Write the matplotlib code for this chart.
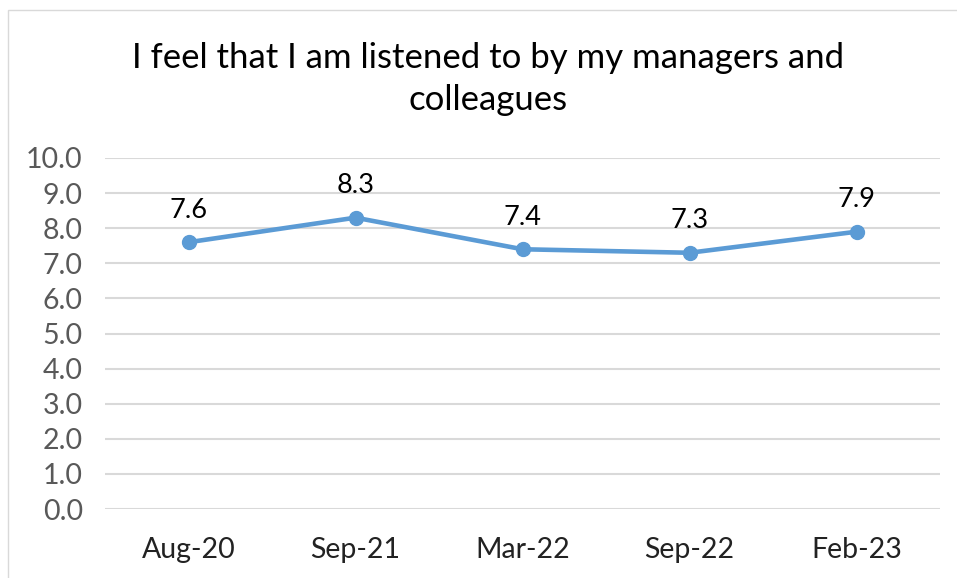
import matplotlib.pyplot as plt
from matplotlib.patches import Rectangle

plt.rcParams['font.family'] = ['Lato', 'DejaVu Sans']

# データ
dates = ["Aug-20", "Sep-21", "Mar-22", "Sep-22", "Feb-23"]
scores = [7.6, 8.3, 7.4, 7.3, 7.9]
yticks = [0, 1, 2, 3, 4, 5, 6, 7, 8, 9, 10]

fig = plt.figure(figsize=(9.57, 5.78), dpi=100)
ax = fig.add_axes([105 / 957, 69 / 578, 835 / 957, 351 / 578])

x = range(len(dates))
ax.plot(x, scores, color="#5B9BD5", lw=3.3, marker="o", ms=10, zorder=3)
for i, v in zip(x, scores):
    ax.annotate(f"{v:.1f}", (i, v), xytext=(0, 14), textcoords="offset points",
                ha="center", va="bottom", fontsize=19.5, color="black")

ax.set_xlim(-0.5, len(dates) - 0.5)
ax.set_ylim(0, 10)
ax.set_yticks(yticks)
ax.set_yticklabels([f"{t:.1f}" for t in yticks], fontsize=20.5, color="#595959")
ax.set_xticks(list(x))
ax.set_xticklabels(dates, fontsize=20.5, color="#222222")
ax.tick_params(length=0)
ax.tick_params(axis="x", pad=20)
ax.tick_params(axis="y", pad=16)
ax.grid(axis="y", color="#D9D9D9", lw=1.5)
ax.set_axisbelow(True)
for s in ax.spines.values():
    s.set_visible(False)

fig.text(488 / 957, 1 - 79 / 578, "I feel that I am listened to by my managers and\ncolleagues",
         ha="center", va="center", fontsize=25, linespacing=1.35)

fig.patches.append(Rectangle((8 / 957, -0.1), 1.2, 1 - 10 / 578 + 0.1, transform=fig.transFigure,
                             fill=False, edgecolor="#D9D9D9", lw=1))

fig.savefig("out.png", dpi=100)
